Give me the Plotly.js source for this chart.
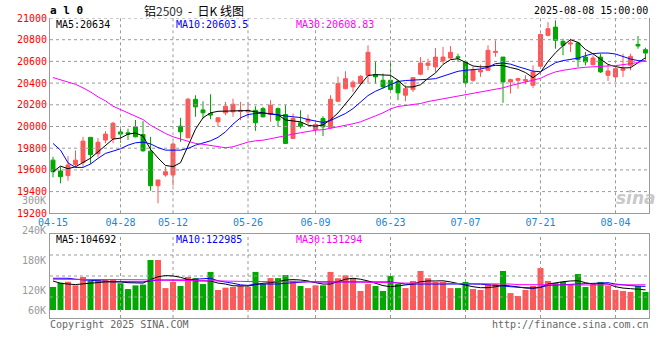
<!DOCTYPE html>
<html>
<head>
<meta charset="utf-8">
<script src="https://cdn.plot.ly/plotly-3.0.1.min.js"></script>
<style>html,body{margin:0;padding:0;background:#fff;}#chart{width:660px;height:360px;}</style>
</head>
<body>
<div id="chart"></div>
<script>
// ---------- data ----------
const dates = ['04-15','04-16','04-17','04-18','04-21','04-22','04-23','04-24','04-25','04-28',
  '04-29','04-30','05-06','05-07','05-08','05-09','05-12','05-13','05-14','05-15',
  '05-16','05-19','05-20','05-21','05-22','05-23','05-26','05-27','05-28','05-29',
  '05-30','06-03','06-04','06-05','06-06','06-09','06-10','06-11','06-12','06-13',
  '06-16','06-17','06-18','06-19','06-20','06-23','06-24','06-25','06-26','06-27',
  '06-30','07-01','07-02','07-03','07-04','07-07','07-08','07-09','07-10','07-11',
  '07-14','07-15','07-16','07-17','07-18','07-21','07-22','07-23','07-24','07-25',
  '07-28','07-29','07-30','07-31','08-01','08-04','08-05','08-06','08-07','08-08'];

const openP = [19690,19590,19547,19650,19670,19900,19750,19875,19890,19950,
  19942,19997,19926,19773,19454,19553,19553,20003,19896,20251,
  20153,20120,20043,20126,20135,20138,20135,20150,20165,20113,
  20165,20110,19890,20034,20043,19972,20074,19988,20233,20349,
  20365,20395,20472,20478,20426,20426,20417,20288,20340,20482,
  20564,20549,20604,20631,20643,20595,20426,20503,20518,20683,
  20640,20411,20426,20420,20380,20555,20840,20916,20785,20760,
  20769,20640,20570,20640,20472,20457,20518,20564,20757,20708];
const highP = [19721,19630,19727,19780,19905,19900,19895,19957,20043,19997,
  19980,20060,20050,19905,19507,19630,19859,20080,20264,20288,
  20233,20297,20089,20227,20257,20227,20227,20187,20181,20242,
  20175,20196,20120,20150,20110,20034,20095,20288,20460,20509,
  20426,20472,20748,20595,20487,20585,20426,20380,20457,20640,
  20625,20723,20733,20742,20671,20610,20549,20570,20748,20794,
  20640,20441,20450,20472,20564,20855,20962,20978,20809,20809,
  20779,20687,20656,20671,20564,20549,20671,20671,20834,20726];
const lowP = [19531,19476,19500,19620,19630,19655,19720,19845,19845,19850,
  19875,19900,19767,19408,19292,19537,19454,19859,19890,20089,
  20073,20067,19997,20104,20089,20058,20073,19960,20083,20043,
  19997,19838,19890,19982,20018,19926,19911,19982,20224,20343,
  20319,20380,20395,20395,20349,20319,20242,20233,20319,20472,
  20518,20503,20579,20625,20595,20380,20411,20457,20518,20643,
  20218,20304,20349,20389,20356,20549,20830,20717,20656,20687,
  20549,20564,20564,20494,20420,20411,20457,20518,20717,20616];
const closeP = [19583,19537,19645,19690,19865,19740,19855,19930,20030,19930,
  19930,19905,19776,19454,19507,19583,19838,19951,20251,20181,
  20126,20105,20080,20187,20205,20150,20150,20034,20089,20196,
  20058,19844,20074,20003,20067,20018,19997,20251,20395,20441,
  20408,20463,20684,20457,20365,20340,20310,20349,20450,20585,
  20585,20640,20640,20684,20634,20402,20524,20518,20702,20692,
  20411,20432,20441,20432,20503,20849,20901,20794,20748,20769,
  20616,20595,20631,20503,20512,20533,20533,20646,20742,20677];

const ma5 = [19583,19635,19611,19629,19668,19708,19766,19822,19884,19893,
  19930,19940,19912,19790,19710,19641,19630,19666,19820,19975,
  20080,20126,20140,20141,20141,20144,20147,20135,20126,20120,
  20108,20060,20052,20043,20012,20002,20015,20062,20125,20208,
  20293,20386,20470,20478,20478,20472,20426,20364,20365,20385,
  20444,20493,20572,20616,20625,20594,20558,20549,20552,20564,
  20562,20543,20527,20497,20450,20500,20600,20680,20745,20800,
  20775,20710,20670,20620,20572,20552,20540,20542,20590,20634];
const ma10 = [19844,19782,19665,19623,19623,19654,19706,19752,19773,19795,
  19828,19850,19856,19840,19806,19782,19782,19782,19798,19828,
  19848,19868,19900,19951,20022,20080,20110,20120,20123,20117,
  20110,20098,20089,20083,20064,20052,20037,20055,20085,20120,
  20165,20225,20285,20325,20355,20390,20415,20424,20426,20428,
  20435,20441,20463,20487,20509,20518,20524,20530,20545,20580,
  20585,20575,20552,20530,20510,20505,20549,20588,20607,20618,
  20630,20653,20671,20677,20677,20668,20645,20622,20607,20603.5];
const ma30 = [20451,20432,20411,20389,20356,20319,20273,20236,20187,20156,
  20126,20095,20064,20012,19972,19936,19905,19884,19859,19844,
  19836,19825,19810,19804,19813,19836,19856,19868,19874,19887,
  19899,19917,19930,19942,19957,19966,19970,19982,19997,20009,
  20025,20043,20074,20098,20126,20162,20184,20193,20199,20212,
  20230,20242,20254,20267,20279,20294,20307,20319,20331,20343,
  20356,20377,20392,20408,20423,20444,20478,20503,20518,20530,
  20539,20546,20552,20555,20558,20561,20567,20579,20590,20608.83];

// volume in thousands of lots
const vol = [120,142,147,128,172,151,160,160,160,139,
  109,128,132,260,260,114,146,125,172,166,
  135,198,104,116,120,125,121,198,135,166,
  166,182,152,125,114,128,128,198,165,180,
  163,99,135,125,99,177,135,114,151,203,
  165,146,146,114,114,146,109,104,135,135,
  203,88,73,104,125,218,151,140,146,135,
  187,120,135,146,125,104,99,94,125,94];
const vma5 = [151,139,135,132,136,140,144,146,146,146,
  142,140,140,158,173,179,177,170,158,152,
  150,151,140,135,126,125,125,132,139,142,
  147,156,158,156,151,142,135,135,147,160,
  165,160,151,140,127,121,125,130,135,147,
  151,151,152,146,137,128,121,116,116,121,
  128,125,118,114,113,118,135,142,147,151,
  152,142,135,137,135,121,114,111,106,104.692];
const vma10 = [165,165,165,160,156,154,152,149,147,147,
  146,144,146,151,156,156,156,154,156,160,
  163,165,152,147,139,131,128,135,135,135,
  135,139,142,146,147,146,146,147,147,147,
  147,146,146,146,146,146,140,135,135,135,
  135,137,138,137,135,135,135,134,132,128,
  125,121,118,114,114,118,128,130,132,134,
  135,137,139,142,142,135,130,127,124,122.985];
const vma30 = [160,160,160,159,159,159,158,158,158,157,
  157,157,157,156,155,154,153,153,153,152,
  152,152,152,151,150,149,148,148,147,147,
  147,147,147,147,147,147,146,146,146,145,
  145,145,144,144,144,143,141,140,140,139,
  139,139,138,138,138,138,137,137,136,136,
  136,135,132,131,130,131,131,131,130,130,
  130,130,130,130,130,130,130,131,131,131.294];

const tickDates = ['04-15','04-28','05-12','05-26','06-09','06-23','07-07','07-21','08-04'];
const priceTicks = [19200,19400,19600,19800,20000,20200,20400,20600,20800,21000];
const volLabelText = ['300K','240K','180K','120K','60K'];

// ---------- styling / layout geometry ----------
const UP = '#ff5858', DN = '#00a800';
const MONO = 'DejaVu Sans Mono';
const GRID = '#9a9a9a', BORDER = '#9a9a9a';
const PL = 50, PR = 649, PT = 18, PB = 318;
const ax = px => (px - PL) / (PR - PL);
const ay = py => (PB - py) / (PB - PT);
const volLabelY = [200, 230.7, 260.7, 290, 310.7];   // pixel rows of the volume scale labels

const xRange = [-0.4, 79.467];
const priceRange = [19200, 21000];
const volRange = [-41.6, 395.2];

const xIdx = dates.map((d, i) => i);
const tickIdx = tickDates.map(d => dates.indexOf(d));
const volColors = closeP.map((c, i) => c >= openP[i] ? UP : DN);

// dotted guide lines drawn as line traces
const hSeg = (vals, x0, x1) => ({x: vals.flatMap(() => [x0, x1, null]), y: vals.flatMap(v => [v, v, null])});
const vSeg = (vals, y0, y1) => ({x: vals.flatMap(v => [v, v, null]), y: vals.flatMap(() => [y0, y1, null])});
const gridStyle = {type:'scatter', mode:'lines', hoverinfo:'skip', showlegend:false, cliponaxis:false,
  line:{color:GRID, width:1, dash:'dot'}};
const innerTicks = tickIdx.slice(1);
const priceH = hSeg(priceTicks.slice(1), xRange[0], xRange[1]);
const priceV = vSeg(innerTicks, priceRange[0], priceRange[1]);
const volBands = [0.25, 0.5, 0.75].map(f => volRange[0] + f * (volRange[1] - volRange[0]));
const volH = hSeg(volBands, xRange[0], xRange[1]);
const volV = vSeg(innerTicks, volRange[0], volRange[1]);

const traces = [
  Object.assign({}, gridStyle, priceH, {xaxis:'x', yaxis:'y'}),
  Object.assign({}, gridStyle, priceV, {xaxis:'x', yaxis:'y'}),
  Object.assign({}, gridStyle, volH, {xaxis:'x2', yaxis:'y2'}),
  Object.assign({}, gridStyle, volV, {xaxis:'x2', yaxis:'y2'}),
  {type:'candlestick', x:xIdx, open:openP, high:highP, low:lowP, close:closeP,
   xaxis:'x', yaxis:'y', whiskerwidth:0, hoverinfo:'skip', showlegend:false,
   increasing:{line:{color:UP, width:1}, fillcolor:UP},
   decreasing:{line:{color:DN, width:1}, fillcolor:DN}},
  {type:'scatter', mode:'lines', x:xIdx, y:ma5, xaxis:'x', yaxis:'y', line:{color:'#000000', width:1}, hoverinfo:'skip', showlegend:false},
  {type:'scatter', mode:'lines', x:xIdx, y:ma10, xaxis:'x', yaxis:'y', line:{color:'#0000ff', width:1}, hoverinfo:'skip', showlegend:false},
  {type:'scatter', mode:'lines', x:xIdx, y:ma30, xaxis:'x', yaxis:'y', line:{color:'#ff00ff', width:1}, hoverinfo:'skip', showlegend:false},
  {type:'bar', x:xIdx, y:vol, xaxis:'x2', yaxis:'y2', marker:{color:volColors, line:{width:0}}, hoverinfo:'skip', showlegend:false},
  {type:'scatter', mode:'lines', x:xIdx, y:vma5, xaxis:'x2', yaxis:'y2', line:{color:'#000000', width:1}, hoverinfo:'skip', showlegend:false},
  {type:'scatter', mode:'lines', x:xIdx, y:vma10, xaxis:'x2', yaxis:'y2', line:{color:'#0000ff', width:1}, hoverinfo:'skip', showlegend:false},
  {type:'scatter', mode:'lines', x:xIdx, y:vma30, xaxis:'x2', yaxis:'y2', line:{color:'#ff00ff', width:1}, hoverinfo:'skip', showlegend:false}
];

const xCommon = {type:'linear', range:xRange, tickvals:tickIdx, ticktext:tickDates,
  showgrid:false, showline:true, linecolor:BORDER, linewidth:1, ticks:'', zeroline:false, fixedrange:true};

const ann = (text, px, py, color, xanchor, size, extra) => Object.assign({
  text:text, xref:'paper', yref:'paper', x:ax(px), y:ay(py), xanchor:xanchor, yanchor:'middle',
  showarrow:false, font:{family:MONO, size:size || 10, color:color}, borderpad:0}, extra || {});

const fmtV = v => String(Math.round(v * 1000));
const NB = '\u00a0';

const annotations = [
  ann('<b>a' + NB + 'l' + NB + '0</b>', 49, 11, '#000', 'left', 11),
  ann('铝<span style="color:#333">2509</span>' + NB + NB + '-' + NB + NB + '日K' + NB + '线图', 194, 11, '#000', 'center', 12,
      {font:{family:'Noto Sans CJK SC', size:12, color:'#000'}}),
  ann('2025-08-08 15:00:00', 649, 11, '#000', 'right', 10),
  ann('MA5:' + ma5[ma5.length-1], 55, 24, '#000', 'left', 10),
  ann('MA10:' + ma10[ma10.length-1], 175, 24, '#0000ff', 'left', 10),
  ann('MA30:' + ma30[ma30.length-1], 295, 24, '#ff00ff', 'left', 10),
  ann('MA5:' + fmtV(vma5[vma5.length-1]), 55, 239, '#000', 'left', 10),
  ann('MA10:' + fmtV(vma10[vma10.length-1]), 175, 239, '#0000ff', 'left', 10),
  ann('MA30:' + fmtV(vma30[vma30.length-1]), 295, 239, '#ff00ff', 'left', 10),
  ann('Copyright 2025 SINA.COM', 49, 324, '#666', 'left', 10),
  ann('http://finance.sina.com.cn', 650, 324, '#666', 'right', 10),
  ann('<b><i>sina</i></b>', 636, 198, 'rgba(190,190,190,0.85)', 'center', 17,
      {font:{family:'DejaVu Sans', size:17, color:'rgba(190,190,190,0.85)'}})
].concat(volLabelText.map((t, i) => ann(t, 47, volLabelY[i], '#999999', 'right', 10)));

const layout = {
  width:660, height:360,
  margin:{l:PL, r:660-PR, t:PT, b:360-PB, pad:0},
  paper_bgcolor:'#ffffff', plot_bgcolor:'#ffffff',
  showlegend:false, bargap:0.2, boxgap:0.25, dragmode:false,
  xaxis: Object.assign({}, xCommon, {anchor:'y', domain:[0,1], rangeslider:{visible:false},
    showticklabels:true, tickfont:{family:MONO, size:10, color:'#1a86d6'}}),
  yaxis: {anchor:'x', domain:[ay(213.3), 1], range:priceRange, tickvals:priceTicks,
    tickformat:'d', tickfont:{family:MONO, size:10, color:'#ff0000'}, showgrid:false,
    showline:true, mirror:true, linecolor:BORDER, ticks:'', zeroline:false, fixedrange:true},
  xaxis2: Object.assign({}, xCommon, {anchor:'y2', domain:[0,1], mirror:true, showticklabels:false}),
  yaxis2: {anchor:'x2', domain:[0, ay(234)], range:volRange, showgrid:false,
    showticklabels:false, showline:true, mirror:true, linecolor:BORDER, ticks:'', zeroline:false, fixedrange:true},
  annotations: annotations
};

Plotly.newPlot('chart', traces, layout, {staticPlot:true, displayModeBar:false});
</script>
</body>
</html>
